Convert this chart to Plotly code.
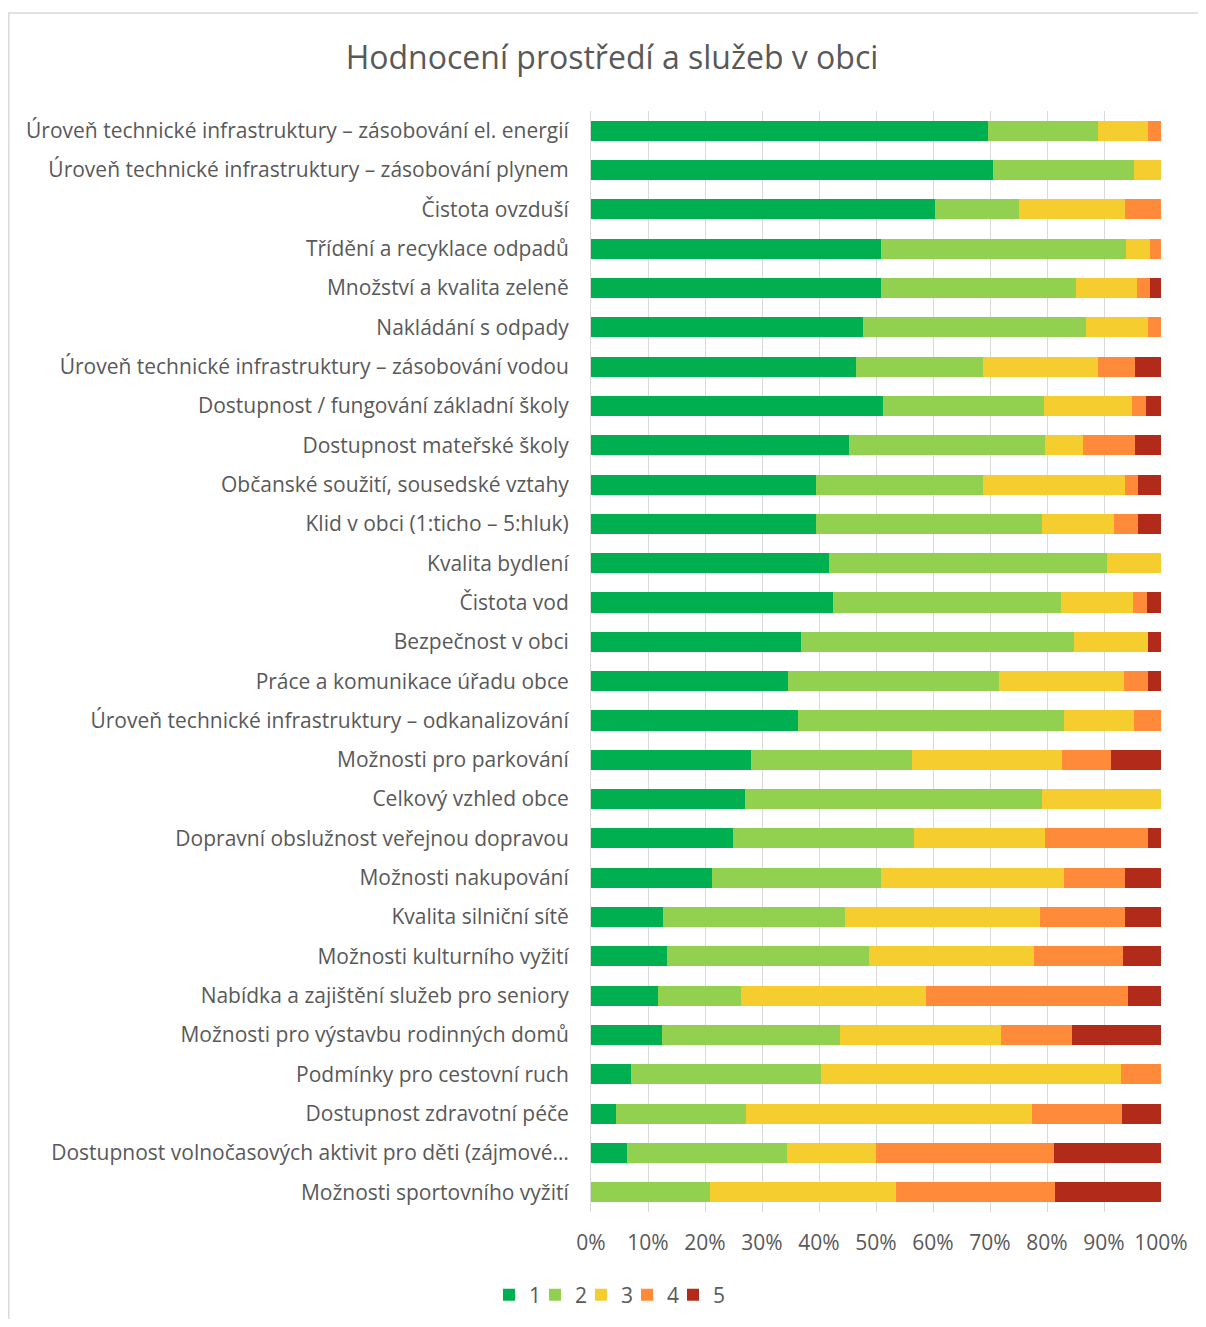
import plotly.graph_objects as go

categories = [
    "Úroveň technické infrastruktury – zásobování el. energií",
    "Úroveň technické infrastruktury – zásobování plynem",
    "Čistota ovzduší",
    "Třídění a recyklace odpadů",
    "Množství a kvalita zeleně",
    "Nakládání s odpady",
    "Úroveň technické infrastruktury – zásobování vodou",
    "Dostupnost / fungování základní školy",
    "Dostupnost mateřské školy",
    "Občanské soužití, sousedské vztahy",
    "Klid v obci (1:ticho – 5:hluk)",
    "Kvalita bydlení",
    "Čistota vod",
    "Bezpečnost v obci",
    "Práce a komunikace úřadu obce",
    "Úroveň technické infrastruktury – odkanalizování",
    "Možnosti pro parkování",
    "Celkový vzhled obce",
    "Dopravní obslužnost veřejnou dopravou",
    "Možnosti nakupování",
    "Kvalita silniční sítě",
    "Možnosti kulturního vyžití",
    "Nabídka a zajištění služeb pro seniory",
    "Možnosti pro výstavbu rodinných domů",
    "Podmínky pro cestovní ruch",
    "Dostupnost zdravotní péče",
    "Dostupnost volnočasových aktivit pro děti (zájmové…",
    "Možnosti sportovního vyžití",
]

s1 = [69.6, 70.6, 60.4, 50.9, 50.9, 47.7, 46.5, 51.2, 45.3, 39.5, 39.5, 41.8, 42.4, 36.9,
      34.6, 36.4, 28.0, 27.0, 24.9, 21.2, 12.6, 13.3, 11.7, 12.4, 7.0, 4.4, 6.25, 0.0]
s2 = [19.4, 24.6, 14.6, 43.0, 34.2, 39.2, 22.3, 28.2, 34.3, 29.2, 39.7, 48.8, 40.0, 47.9,
      37.0, 46.5, 28.4, 52.2, 31.8, 29.7, 32.0, 35.5, 14.7, 31.3, 33.3, 22.8, 28.1, 20.8]
s3 = [8.8, 4.8, 18.7, 4.1, 10.7, 10.9, 20.2, 15.5, 6.8, 25.0, 12.5, 9.4, 12.7, 13.0,
      21.9, 12.3, 26.2, 20.8, 22.9, 32.1, 34.1, 29.0, 32.4, 28.1, 52.6, 50.1, 15.6, 32.7]
s4 = [2.2, 0.0, 6.3, 2.0, 2.2, 2.2, 6.5, 2.5, 9.1, 2.2, 4.2, 0.0, 2.5, 0.0,
      4.3, 4.8, 8.7, 0.0, 18.2, 10.6, 14.9, 15.6, 35.4, 12.5, 7.1, 15.9, 31.3, 27.9]
s5 = [0.0, 0.0, 0.0, 0.0, 2.0, 0.0, 4.5, 2.6, 4.5, 4.1, 4.1, 0.0, 2.4, 2.2,
      2.2, 0.0, 8.7, 0.0, 2.2, 6.4, 6.4, 6.6, 5.8, 15.6, 0.0, 6.8, 18.75, 18.6]

series_names = ["1", "2", "3", "4", "5"]
series_values = [s1, s2, s3, s4, s5]
colors = ["#00B050", "#92D050", "#F5CD2F", "#FF8A3A", "#B22B1A"]

tick_vals = [0, 10, 20, 30, 40, 50, 60, 70, 80, 90, 100]
tick_text = ["0%", "10%", "20%", "30%", "40%", "50%", "60%", "70%", "80%", "90%", "100%"]

fig = go.Figure()
for name, vals, col in zip(series_names, series_values, colors):
    fig.add_trace(go.Bar(
        y=categories, x=vals, name=name, orientation="h",
        marker=dict(color=col, line=dict(width=0)),
        hovertemplate="%{y}: %{x:.1f}%<extra>" + name + "</extra>",
    ))

# invisible spacer entry so the last legend label is not clipped
fig.add_trace(go.Scatter(x=[None], y=[None], mode="markers", name=" ",
                         marker=dict(opacity=0, color="white"), hoverinfo="skip"))

# page has an 8px body margin; figure coords = page coords - 8
W, H = 1190, 1311
ml, mr, mt, mb = 583, 37, 103, 107

fig.update_layout(
    width=W, height=H,
    barmode="stack", barnorm="percent", bargap=0.49,
    paper_bgcolor="white", plot_bgcolor="white",
    margin=dict(l=ml, r=mr, t=mt, b=mb, autoexpand=False),
    font=dict(family="Open Sans, Liberation Sans, sans-serif", color="#595959", size=21),
    title=dict(text="Hodnocení prostředí a služeb v obci", x=604 / W, xref="container",
               y=1 - 50 / H, yref="container", xanchor="center", yanchor="middle",
               font=dict(size=32, color="#595959")),
    legend=dict(orientation="h", x=619 / W, xref="container", xanchor="center",
                y=1 - 1287 / H, yref="container", yanchor="middle",
                font=dict(size=21, color="#595959"), traceorder="normal",
                itemwidth=30, entrywidth=1, entrywidthmode="pixels"),
    xaxis=dict(range=[0, 100], tickvals=tick_vals, ticktext=tick_text,
               showgrid=True, gridcolor="#D9D9D9", gridwidth=1, zeroline=False,
               showline=False, ticks="", ticklabelstandoff=16,
               tickfont=dict(size=21, color="#595959"), fixedrange=True),
    yaxis=dict(autorange="reversed", showgrid=False, showline=True, linecolor="#D9D9D9",
               linewidth=1, ticks="", ticklabelstandoff=17,
               tickfont=dict(size=21, color="#595959"), fixedrange=True),
    showlegend=True,
)

# outer chart border (left and top visible)
pw = W - ml - mr
ph = H - mt - mb
x0 = (0.8 - ml) / pw
x1 = (W + 5 - ml) / pw
y1 = 1 + (mt - 5) / ph
y0 = -(H + 5 - (H - mb)) / ph
fig.add_shape(type="rect", xref="paper", yref="paper", x0=x0, x1=x1, y0=y0, y1=y1,
              line=dict(color="#D9D9D9", width=1.5), fillcolor="rgba(0,0,0,0)", layer="below")

fig.write_html("out.html")
